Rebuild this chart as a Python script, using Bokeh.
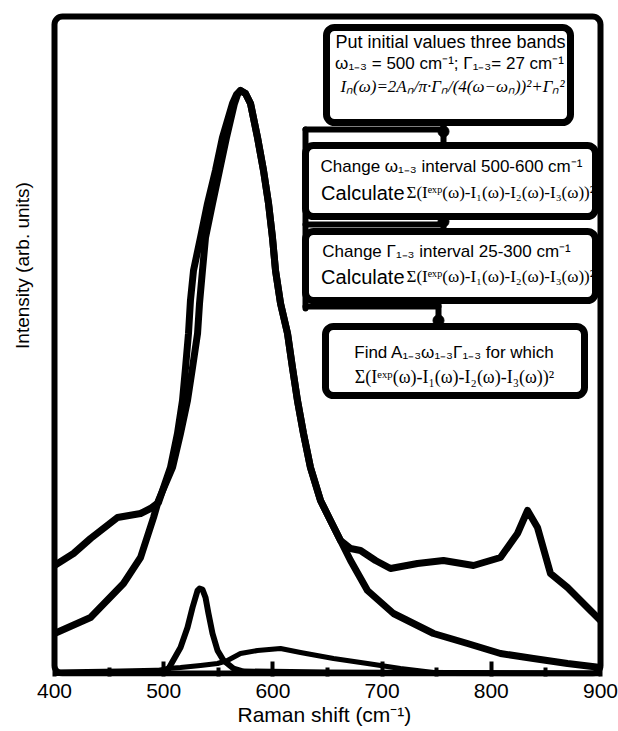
import math
from bokeh.plotting import figure
from bokeh.models import BoxAnnotation, Label, FixedTicker, Range1d, Title
from bokeh.embed import file_html
from bokeh.resources import INLINE

# ---------------- data ----------------
# experimental Raman spectrum
shift_exp = [400, 417.4, 433.0, 457.7, 478.8, 487.9, 495.2, 506.2, 512.6, 517.2,
             520.0, 522.7, 524.5, 527.3, 533.7, 540.1, 547.4, 553.8, 563.0, 566.7,
             570.3, 574.9, 579.5, 585.9, 591.4, 596.0, 599.6, 602.4, 607.0, 613.4,
             617.9, 622.5, 628.0, 634.4, 643.6, 652.7, 661.9, 671.1, 680.2, 694.0,
             707.7, 732.4, 756.2, 783.7, 808.4, 824.0, 833.2, 842.3, 854.2, 869.8,
             884.4, 900.0]
int_exp = [108, 120, 135, 156, 160, 165, 171, 206, 240, 273,
           306, 340, 373, 403, 436, 470, 503, 536, 570, 579,
           583, 580, 570, 536, 503, 470, 436, 403, 370, 340,
           306, 273, 240, 206, 173, 153, 133, 125, 123, 113,
           105, 110, 113, 108, 116, 140, 163, 146, 100, 86,
           70, 53]

# main fitted band (~570 cm-1)
shift_band1 = [400, 433.0, 463.2, 478.8, 490.7, 495.2, 508.1, 515.4, 521.8, 526.4,
               531.0, 532.8, 535.5, 538.3, 544.7, 551.1, 557.5, 564.8, 567.6, 570.3,
               574.9, 579.5, 585.9, 591.4, 596.0, 599.6, 602.4, 607.0, 613.4, 617.9,
               622.5, 628.0, 634.4, 643.6, 652.7, 661.9, 671.1, 686.6, 710.4, 747.1,
               778.2, 808.4, 838.6, 869.8, 900.0]
int_band1 = [40, 56, 90, 116, 156, 173, 206, 240, 273, 306,
             340, 370, 403, 436, 470, 503, 536, 570, 579, 583,
             580, 570, 536, 503, 470, 436, 403, 370, 340, 306,
             273, 240, 206, 173, 153, 133, 113, 83, 60, 40,
             30, 20, 15, 10, 6]

# narrow fitted band (~533 cm-1)
shift_band2 = [400, 460.4, 503.5, 515.4, 521.8, 526.4, 531.0, 532.8, 535.5, 538.3,
               541.0, 544.7, 549.3, 554.8, 563.9, 573.1, 650, 900]
int_band2 = [1, 2, 3, 26, 46, 66, 83, 85, 84, 76,
             60, 40, 23, 13, 5, 2, 1, 0]

# broad fitted band (~607 cm-1)
shift_band3 = [400, 487.9, 503.5, 515.4, 533.7, 549.3, 558.4, 570.3, 585.9, 607.0,
               625.3, 655.5, 686.6, 716.8, 747.1, 900]
int_band3 = [0, 1, 5, 6, 8, 10, 13, 20, 23, 25,
             21, 15, 10, 5, 1, 0]

major_ticks = [400, 500, 600, 700, 800, 900]
minor_ticks = [450, 550, 650, 750, 850]
X0, X1 = 400, 900          # data extent of the drawn frame
Y0, Y1 = 0, 657

# ---------------- layout ----------------
W, H = 618, 731
FL, FR, FT, FB = 54, 600, 16, 673      # where the drawn frame sits (px)
CANVAS_BOTTOM = 676                     # bottom of bokeh's plotting area (px)

def dx(px):
    return X0 + (px - FL) * (X1 - X0) / (FR - FL)

def dy(py):
    return Y0 + (FB - py) * (Y1 - Y0) / (FB - FT)

p = figure(width=W, height=H, output_backend="svg", toolbar_location=None,
           x_range=Range1d(dx(0), dx(W)), y_range=Range1d(dy(CANVAS_BOTTOM), dy(0)),
           min_border_left=0, min_border_right=0, min_border_top=0,
           min_border_bottom=H - CANVAS_BOTTOM)
p.background_fill_color = "white"
p.border_fill_color = "white"
p.outline_line_color = None
p.xgrid.visible = False
p.ygrid.visible = False
p.yaxis.visible = False

SANS = "Liberation Sans"
SERIF = "Liberation Serif"

xa = p.xaxis[0]
xa.ticker = FixedTicker(ticks=major_ticks, minor_ticks=minor_ticks)
xa.axis_line_color = None
xa.major_tick_in = 15
xa.major_tick_out = 0
xa.minor_tick_in = 9
xa.minor_tick_out = 0
xa.major_tick_line_width = 4
xa.minor_tick_line_width = 4
xa.major_label_text_font = SANS
xa.major_label_text_font_size = "21px"
xa.major_label_text_color = "black"
xa.major_label_standoff = 7

# x axis title, centred under the drawn frame
p.add_layout(Title(text="Raman shift (cm\u207b\u00b9)", align="left", offset=237,
                   text_font=SANS, text_font_size="21px", text_font_style="normal",
                   text_color="black", standoff=0), "below")

# curves
for xs, ys, w in [(shift_band3, int_band3, 5), (shift_band2, int_band2, 6),
                  (shift_band1, int_band1, 7), (shift_exp, int_exp, 7)]:
    p.line(xs, ys, line_color="black", line_width=w, line_join="round", line_cap="butt")

# drawn plot frame (thick, rounded)
p.add_layout(BoxAnnotation(left=X0, right=X1, bottom=Y0, top=Y1,
                           fill_alpha=0.0, line_color="black", line_alpha=1.0,
                           line_width=6, border_radius=8))

# y axis title
p.add_layout(Label(x=dx(22), y=dy(265), text="Intensity (arb. units)", angle=math.pi / 2,
                   text_font=SANS, text_font_size="19px", text_color="black",
                   text_align="center", text_baseline="middle"))

# flowchart connectors
segs = [((305, 129), (305, 308)), ((305, 129), (443, 129)), ((443, 122), (443, 145)),
        ((305, 224), (443, 224)), ((443, 216), (443, 231)),
        ((305, 306), (438, 306)), ((438, 300), (438, 326))]
p.segment(x0=[dx(a[0]) for a, b in segs], y0=[dy(a[1]) for a, b in segs],
          x1=[dx(b[0]) for a, b in segs], y1=[dy(b[1]) for a, b in segs],
          line_color="black", line_width=6, line_cap="round")
dots = [(443, 131), (443, 221), (438, 320)]
p.scatter([dx(d[0]) for d in dots], [dy(d[1]) for d in dots], size=11,
          color="black")

# flowchart boxes
boxes = [(326, 570, 27, 122), (305, 595, 145, 216), (305, 595, 231, 300), (325, 584, 326, 395)]
for l, r, t, b in boxes:
    p.add_layout(BoxAnnotation(left=dx(l), right=dx(r), top=dy(t), bottom=dy(b),
                               fill_color="white", fill_alpha=1.0,
                               line_color="black", line_width=7, line_alpha=1.0,
                               border_radius=8, level="overlay"))

def lab(px, py, text, font=SANS, size="18px", align="center", style="normal"):
    p.add_layout(Label(x=dx(px), y=dy(py), text=text, text_font=font,
                       text_font_size=size, text_color="black", text_font_style=style,
                       text_align=align, text_baseline="middle", level="overlay"))

SUM = "\u03a3(I\u1d49\u02e3\u1d56(\u03c9)-I\u2081(\u03c9)-I\u2082(\u03c9)-I\u2083(\u03c9))\u00b2"
lab(450, 41, "Put initial values three bands")
lab(449, 63, "\u03c9\u2081\u208b\u2083 = 500 cm\u207b\u00b9; \u0393\u2081\u208b\u2083= 27 cm\u207b\u00b9",
    size="17px")
lab(452, 86, "I\u2099(\u03c9)=2A\u2099/\u03c0\u00b7\u0393\u2099/(4(\u03c9\u2212\u03c9\u2099))\u00b2+\u0393\u2099\u00b2",
    font=SERIF, size="17px", style="italic")
lab(451, 166, "Change \u03c9\u2081\u208b\u2083 interval 500-600 cm\u207b\u00b9", size="17px")
lab(404, 192, "Calculate", size="20px", align="right")
lab(406, 192, SUM, font=SERIF, size="17px", align="left")
lab(446, 251, "Change \u0393\u2081\u208b\u2083 interval 25-300 cm\u207b\u00b9", size="17px")
lab(404, 276, "Calculate", size="20px", align="right")
lab(406, 276, SUM, font=SERIF, size="17px", align="left")
lab(454, 352, "Find A\u2081\u208b\u2083\u03c9\u2081\u208b\u2083\u0393\u2081\u208b\u2083 for which",
    size="17px")
lab(454, 376, SUM, font=SERIF, size="18px")

open("out.html", "w").write(file_html(p, INLINE))
